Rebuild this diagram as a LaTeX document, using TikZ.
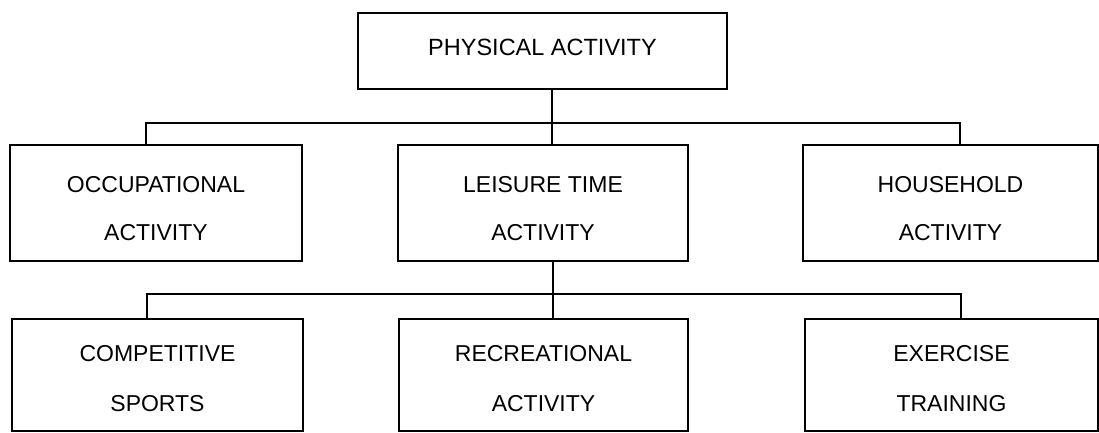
\documentclass[tikz,border=0pt]{standalone}
\usepackage{fontspec}
\setmainfont{Liberation Sans}
\newcommand{\rowtwo}{\rule{0pt}{27pt}}
\newcommand{\rowthree}{\rule{0pt}{23pt}}
\begin{document}
\begin{tikzpicture}[x=1pt,y=1pt,
  box/.style={draw,line width=2pt,inner sep=0pt,align=center,
    font=\fontsize{23}{48}\selectfont},
  boxlow/.style={box,font=\fontsize{23}{50}\selectfont},
  conn/.style={line width=2pt}]
\useasboundingbox[fill=white] (0,0) rectangle (1099,-432);
% nodes
\node[box,minimum width=369pt,minimum height=76pt,font=\fontsize{23.5}{48}\selectfont] (phys) at (542.5,-51) {PHYSICAL ACTIVITY\rule[-8pt]{0pt}{0pt}};
\node[box,minimum width=292pt,minimum height=116pt] (occ) at (156,-203) {\rowtwo OCCUPATIONAL\\ACTIVITY};
\node[box,minimum width=290pt,minimum height=116pt] (leis) at (543,-203) {\rowtwo LEISURE TIME\\ACTIVITY};
\node[box,minimum width=295pt,minimum height=116pt] (house) at (950.5,-203) {\rowtwo HOUSEHOLD\\ACTIVITY};
\node[boxlow,minimum width=291pt,minimum height=112pt] (comp) at (157.5,-375) {\rowthree COMPETITIVE\\SPORTS};
\node[boxlow,minimum width=289pt,minimum height=112pt] (recr) at (543.5,-375) {\rowthree RECREATIONAL\\ACTIVITY};
\node[boxlow,minimum width=293pt,minimum height=112pt] (exer) at (951.5,-375) {\rowthree EXERCISE\\TRAINING};
% junction coordinates
\coordinate (ja) at (552,-123);
\coordinate (jal) at (146,-123);
\coordinate (jar) at (960,-123);
\coordinate (jb) at (553,-294);
\coordinate (jbl) at (147,-294);
\coordinate (jbr) at (961,-294);
% connectors
\draw[conn] (phys.south -| ja) -- (ja);
\draw[conn] (occ.north -| jal) -- (jal) -- (jar) -- (house.north -| jar);
\draw[conn] (ja) -- (leis.north -| ja);
\draw[conn] (leis.south -| jb) -- (jb);
\draw[conn] (comp.north -| jbl) -- (jbl) -- (jbr) -- (exer.north -| jbr);
\draw[conn] (jb) -- (recr.north -| jb);
\end{tikzpicture}
\end{document}
